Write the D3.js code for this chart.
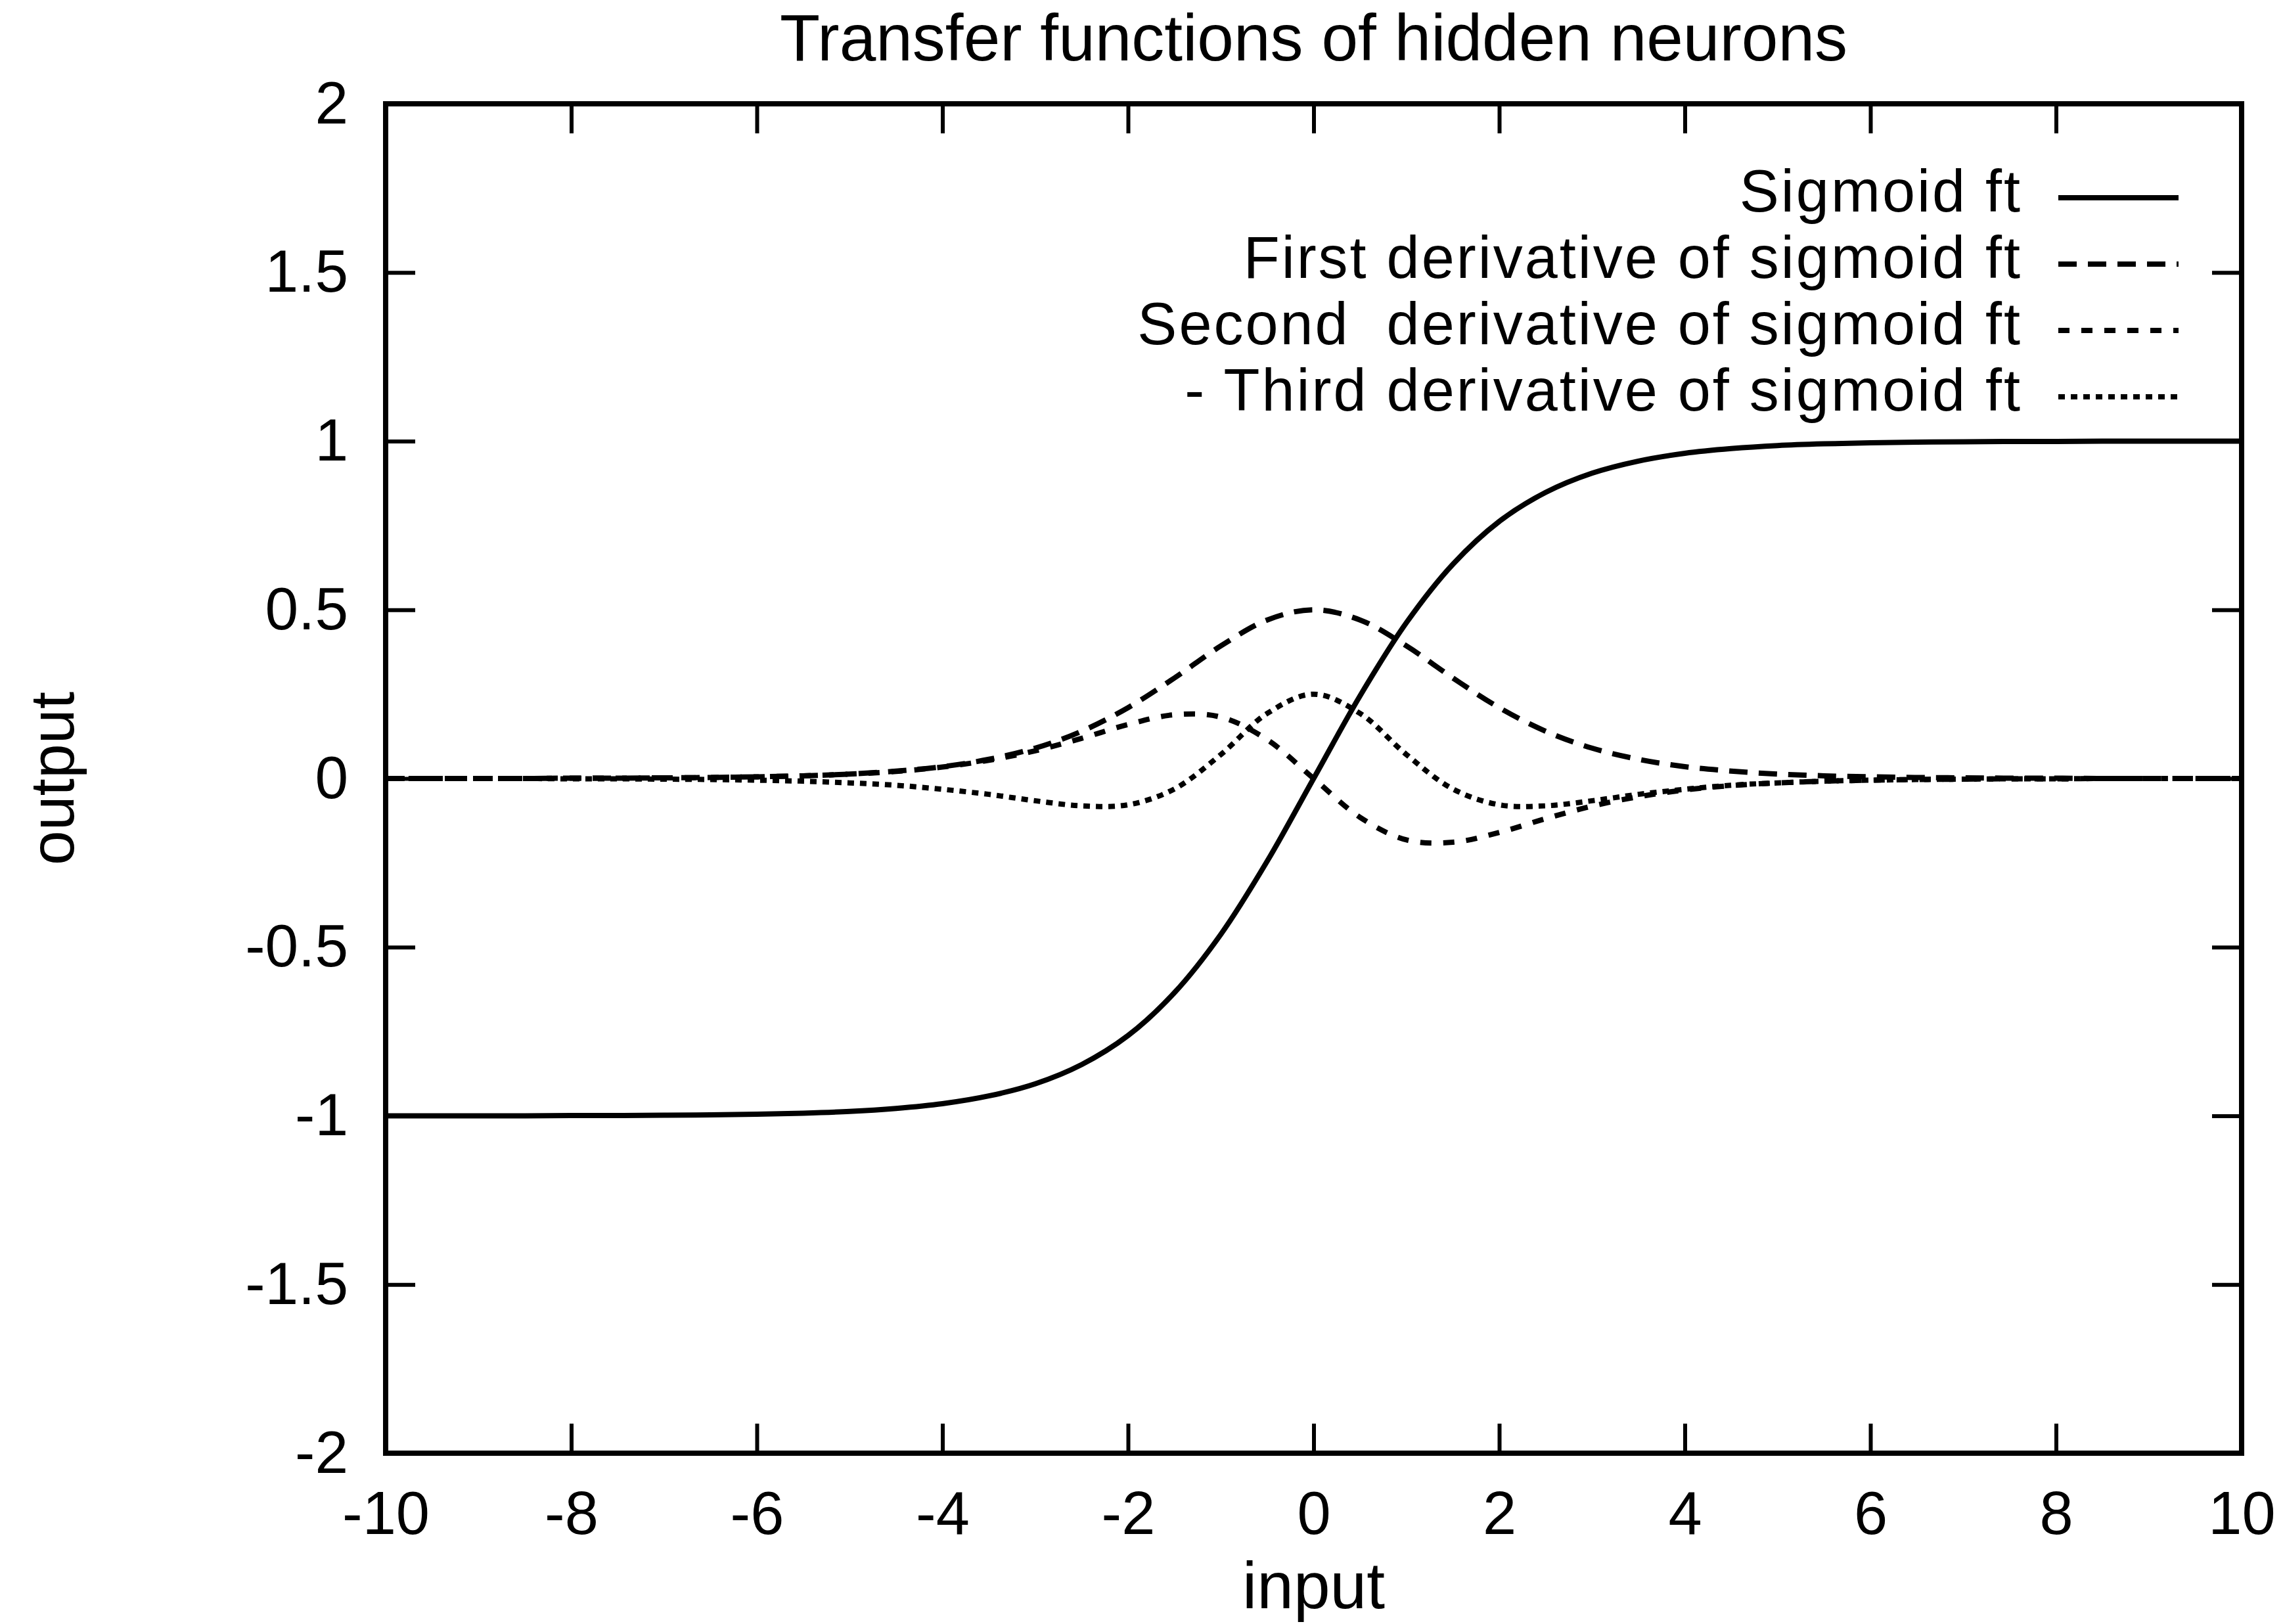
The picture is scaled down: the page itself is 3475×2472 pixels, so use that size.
<!DOCTYPE html>
<html>
<head>
<meta charset="utf-8">
<script src="https://cdn.jsdelivr.net/npm/d3@7"></script>
<style>
  html, body { margin: 0; padding: 0; background: #fff; }
  svg { display: block; }
  text { font-family: "Liberation Sans", Arial, Helvetica, sans-serif; fill: #000; }
</style>
</head>
<body>
<svg id="chart" width="3475" height="2472"></svg>
<script>
// Input values at which the curves were sampled
const inputs = [-10,-9.5,-9,-8.5,-8,-7.5,-7,-6.5,-6,-5.5,-5,-4.5,-4,-3.5,-3,-2.5,-2,-1.5,-1,-0.5,
                0,0.5,1,1.5,2,2.5,3,3.5,4,4.5,5,5.5,6,6.5,7,7.5,8,8.5,9,9.5,10];

// Sigmoid transfer function (range -1..1)
const sigmoid = [-1.000,-1.000,-1.000,-1.000,-0.999,-0.999,-0.998,-0.997,-0.995,-0.992,-0.987,-0.978,-0.964,-0.941,-0.905,-0.848,-0.762,-0.635,-0.462,-0.245,
                 0,0.245,0.462,0.635,0.762,0.848,0.905,0.941,0.964,0.978,0.987,0.992,0.995,0.997,0.998,0.999,0.999,1.000,1.000,1.000,1.000];

// First derivative
const firstDeriv = [0,0,0,0,0.001,0.001,0.002,0.003,0.005,0.008,0.013,0.022,0.035,0.057,0.090,0.140,0.210,0.298,0.393,0.470,
                    0.500,0.470,0.393,0.298,0.210,0.140,0.090,0.057,0.035,0.022,0.013,0.008,0.005,0.003,0.002,0.001,0.001,0,0,0,0];

// Second derivative
const secondDeriv = [0,0,0,0,0.001,0.001,0.002,0.003,0.005,0.008,0.013,0.021,0.034,0.054,0.082,0.119,0.160,0.189,0.182,0.115,
                     0,-0.115,-0.182,-0.189,-0.160,-0.119,-0.082,-0.054,-0.034,-0.021,-0.013,-0.008,-0.005,-0.003,-0.002,-0.001,-0.001,0,0,0,0];

// Negated third derivative
const negThirdDeriv = [0,0,0,0,-0.001,-0.001,-0.002,-0.003,-0.005,-0.008,-0.013,-0.020,-0.032,-0.047,-0.066,-0.081,-0.078,-0.031,0.071,0.193,
                       0.250,0.193,0.071,-0.031,-0.078,-0.081,-0.066,-0.047,-0.032,-0.020,-0.013,-0.008,-0.005,-0.003,-0.002,-0.001,-0.001,0,0,0,0];

const seriesNames = ["Sigmoid ft", "First derivative of sigmoid ft", "Second  derivative of sigmoid ft", "- Third derivative of sigmoid ft"];
const seriesValues = [sigmoid, firstDeriv, secondDeriv, negThirdDeriv];
const seriesDash = [null, "28,17", "17,18", "10,9"];

const xTicks = [-10,-8,-6,-4,-2,0,2,4,6,8,10];
const yTicks = [-2,-1.5,-1,-0.5,0,0.5,1,1.5,2];

const titleText = "Transfer functions of hidden neurons";
const xLabel = "input";
const yLabel = "output";

// Layout
const plot = { left: 587, right: 3412, top: 158, bottom: 2212 };
const tickLen = 45;

const svg = d3.select("#chart");

const x = d3.scaleLinear().domain([-10, 10]).range([plot.left, plot.right]);
const y = d3.scaleLinear().domain([-2, 2]).range([plot.bottom, plot.top]);

// Axes: ticks point inward on all four sides
function styleAxis(g, fontSize) {
  g.select(".domain").remove();
  g.selectAll(".tick line").attr("stroke", "#000").attr("stroke-width", 6);
  g.selectAll(".tick text")
    .attr("fill", "#000")
    .style("font-family", '"Liberation Sans", Arial, Helvetica, sans-serif')
    .style("font-size", fontSize + "px");
}

svg.append("g")
  .attr("transform", `translate(0,${plot.bottom})`)
  .call(d3.axisBottom(x).tickValues(xTicks).tickSize(-tickLen).tickPadding(58).tickFormat(d => String(d)))
  .call(g => styleAxis(g, 92));

svg.append("g")
  .attr("transform", `translate(0,${plot.top})`)
  .call(d3.axisTop(x).tickValues(xTicks).tickSize(-tickLen).tickFormat(""))
  .call(g => styleAxis(g, 92));

svg.append("g")
  .attr("transform", `translate(${plot.left},0)`)
  .call(d3.axisLeft(y).tickValues(yTicks).tickSize(-tickLen).tickPadding(57).tickFormat(d => String(d)))
  .call(g => styleAxis(g, 91));

svg.append("g")
  .attr("transform", `translate(${plot.right},0)`)
  .call(d3.axisRight(y).tickValues(yTicks).tickSize(-tickLen).tickFormat(""))
  .call(g => styleAxis(g, 91));

// Plot frame
svg.append("rect")
  .attr("x", plot.left).attr("y", plot.top)
  .attr("width", plot.right - plot.left).attr("height", plot.bottom - plot.top)
  .attr("fill", "none").attr("stroke", "#000").attr("stroke-width", 8);

// Curves
const line = d3.line()
  .x((d, i) => x(inputs[i]))
  .y(d => y(d))
  .curve(d3.curveCatmullRom.alpha(0.5));

svg.append("g").selectAll("path")
  .data(seriesValues)
  .join("path")
  .attr("d", d => line(d))
  .attr("fill", "none")
  .attr("stroke", "#000")
  .attr("stroke-width", 8)
  .attr("stroke-dasharray", (d, i) => seriesDash[i]);

// Legend: right-aligned labels, each followed by a sample of its stroke
const legend = { textRight: 3078, lineX0: 3133, lineX1: 3316, firstBaseline: 322, rowGap: 101, lineOffset: 21 };
const rows = svg.append("g").selectAll("g")
  .data(seriesNames)
  .join("g")
  .attr("transform", (d, i) => `translate(0,${legend.firstBaseline + i * legend.rowGap})`);

rows.append("text")
  .attr("x", legend.textRight)
  .attr("text-anchor", "end")
  .attr("xml:space", "preserve")
  .style("white-space", "pre")
  .style("font-size", "90px")
  .style("letter-spacing", "3px")
  .text(d => d);

rows.append("line")
  .attr("x1", legend.lineX0).attr("x2", legend.lineX1)
  .attr("y1", -legend.lineOffset).attr("y2", -legend.lineOffset)
  .attr("stroke", "#000")
  .attr("stroke-width", 8)
  .attr("stroke-dasharray", (d, i) => seriesDash[i]);

// Title and axis labels
svg.append("text")
  .attr("x", (plot.left + plot.right) / 2)
  .attr("y", 92)
  .attr("text-anchor", "middle")
  .style("font-size", "100px")
  .text(titleText);

svg.append("text")
  .attr("x", (plot.left + plot.right) / 2)
  .attr("y", 2448)
  .attr("text-anchor", "middle")
  .style("font-size", "100px")
  .text(xLabel);

svg.append("text")
  .attr("transform", `translate(112,${(plot.top + plot.bottom) / 2}) rotate(-90)`)
  .attr("text-anchor", "middle")
  .style("font-size", "95px")
  .text(yLabel);
</script>
</body>
</html>
